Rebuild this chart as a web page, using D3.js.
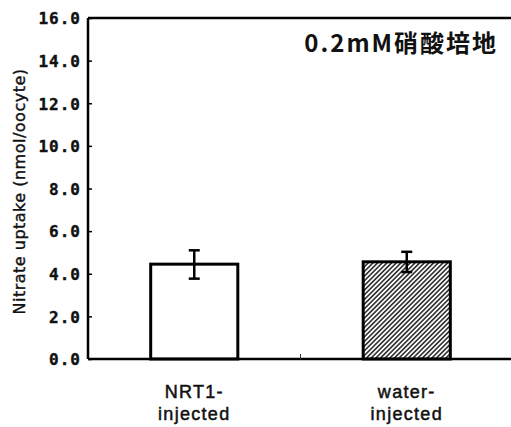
<!DOCTYPE html>
<html>
<head>
<meta charset="utf-8">
<script src="https://cdn.jsdelivr.net/npm/d3@7"></script>
<style>
  body { margin: 0; background: #fff; }
  svg { display: block; }
</style>
</head>
<body>
<svg id="chart" width="511" height="427"></svg>
<script>
// data
const categories = ["NRT1-\ninjected", "water-\ninjected"];
const uptake = [4.45, 4.56];
const errUp = [0.65, 0.47];
const errDown = [0.68, 0.48];
const yTicks = [0, 2, 4, 6, 8, 10, 12, 14, 16];
const note = "0.2mM硝酸培地";

const width = 511, height = 427;
const margin = { top: 18, right: -2, bottom: 68, left: 88 };

const svg = d3.select("#chart");

const x = d3.scaleBand()
    .domain(categories)
    .range([margin.left, width - margin.right])
    .paddingInner(0.59)
    .paddingOuter(0.295);

const y = d3.scaleLinear()
    .domain([0, 16])
    .range([height - margin.bottom, margin.top]);

// hatch for the second bar
const defs = svg.append("defs");
defs.append("pattern")
    .attr("id", "hatch")
    .attr("patternUnits", "userSpaceOnUse")
    .attr("width", 3.3)
    .attr("height", 3.3)
    .attr("patternTransform", "rotate(45)")
  .call(p => {
      p.append("rect").attr("width", 3.3).attr("height", 3.3).attr("fill", "#fff");
      p.append("line")
        .attr("x1", 0.8).attr("y1", 0).attr("x2", 0.8).attr("y2", 3.3)
        .attr("stroke", "#222").attr("stroke-width", 1.5);
  });

// bars
svg.append("g").selectAll("rect")
  .data(uptake)
  .join("rect")
    .attr("x", (d, i) => x(categories[i]))
    .attr("y", d => y(d))
    .attr("width", x.bandwidth())
    .attr("height", d => y(0) - y(d))
    .attr("fill", (d, i) => i === 0 ? "#fff" : "url(#hatch)")
    .attr("stroke", "#000")
    .attr("stroke-width", 3);

// error bars
const cap = 5.5;
const eb = svg.append("g").attr("stroke", "#000").attr("stroke-width", 2.5);
uptake.forEach((v, i) => {
    const cx = x(categories[i]) + x.bandwidth() / 2;
    const top = y(v + errUp[i]), bot = y(v - errDown[i]);
    eb.append("line").attr("x1", cx).attr("x2", cx).attr("y1", top).attr("y2", bot);
    eb.append("line").attr("x1", cx - cap).attr("x2", cx + cap).attr("y1", top).attr("y2", top);
    eb.append("line").attr("x1", cx - cap).attr("x2", cx + cap).attr("y1", bot).attr("y2", bot);
});

// y axis with inward ticks
const yAxis = svg.append("g")
    .attr("transform", `translate(${margin.left},0)`)
    .call(d3.axisLeft(y).tickValues(yTicks).tickFormat(d3.format(".1f")).tickSize(-4).tickPadding(7));
yAxis.select(".domain").remove();
yAxis.selectAll(".tick line").attr("stroke", "#000").attr("stroke-width", 1.5);
yAxis.selectAll(".tick text")
    .attr("fill", "#111")
    .attr("stroke", "#111")
    .attr("stroke-width", 0.4)
    .attr("dy", "0.36em")
    .style("font-family", "'DejaVu Sans Mono', monospace")
    .style("font-weight", "bold")
    .style("font-size", "16px")
    .style("letter-spacing", "1px");

// frame: left, top and bottom (right side runs off the image)
const frame = svg.append("g").attr("stroke", "#000").attr("stroke-width", 2.5);
frame.append("line").attr("x1", margin.left).attr("x2", margin.left).attr("y1", y(16)).attr("y2", y(0));
frame.append("line").attr("x1", margin.left).attr("x2", width + 5).attr("y1", y(16)).attr("y2", y(16));
frame.append("line").attr("x1", margin.left).attr("x2", width + 5).attr("y1", y(0)).attr("y2", y(0));

// small separator tick between the two categories
const sep = (x(categories[0]) + x.bandwidth() + x(categories[1])) / 2;
svg.append("line")
    .attr("x1", sep).attr("x2", sep).attr("y1", y(0)).attr("y2", y(0) - 5)
    .attr("stroke", "#333").attr("stroke-width", 1);

// category labels, two lines each
const xl = svg.append("g")
    .attr("font-family", "'Liberation Sans', Arial, sans-serif")
    .attr("font-size", 18)
    .attr("letter-spacing", 1.3)
    .attr("fill", "#111")
    .attr("stroke", "#111")
    .attr("stroke-width", 0.5)
    .attr("text-anchor", "middle");
categories.forEach(c => {
    const t = xl.append("text")
        .attr("x", x(c) + x.bandwidth() / 2)
        .attr("y", y(0) + 39);
    c.split("\n").forEach((s, k) => {
        t.append("tspan")
            .attr("x", x(c) + x.bandwidth() / 2)
            .attr("dy", k === 0 ? 0 : 22)
            .text(s);
    });
});

// y axis title
svg.append("text")
    .attr("transform", `translate(25,${(y(0) + y(16)) / 2 + 3}) rotate(-90)`)
    .attr("text-anchor", "middle")
    .attr("font-family", "'DejaVu Sans', sans-serif")
    .attr("font-size", 16)
    .attr("letter-spacing", 0.5)
    .attr("fill", "#111")
    .attr("stroke", "#111")
    .attr("stroke-width", 0.4)
    .text("Nitrate uptake (nmol/oocyte)");

// condition note
svg.append("text")
    .attr("x", 498)
    .attr("y", 52)
    .attr("text-anchor", "end")
    .attr("font-family", "'Noto Sans CJK JP', sans-serif")
    .attr("font-weight", "bold")
    .attr("font-size", 24)
    .attr("letter-spacing", 2)
    .attr("fill", "#111")
    .text(note);
</script>
</body>
</html>
